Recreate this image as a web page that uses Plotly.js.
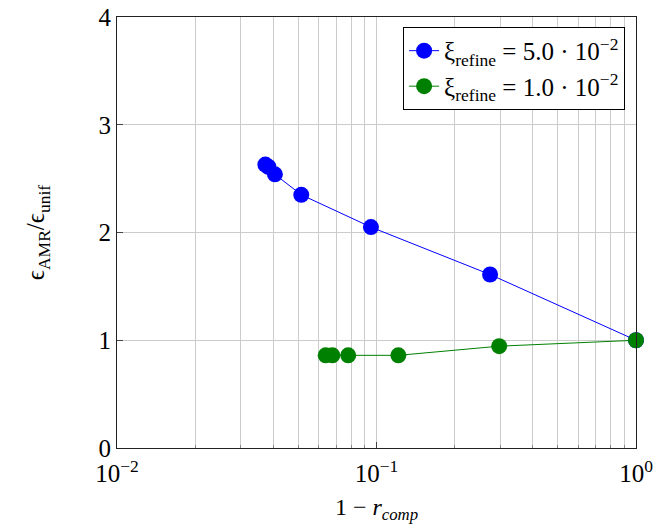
<!DOCTYPE html>
<html>
<head>
<meta charset="utf-8">
<script src="https://cdn.plot.ly/plotly-3.0.1.min.js"></script>
<style>body{margin:0;padding:0;background:#fff;} #chart{width:656px;height:526px;}</style>
</head>
<body>
<div id="chart"></div>
<script>
// Data
const blueX = [0.0373, 0.0383, 0.0406, 0.0513, 0.0952, 0.274, 1.0];
const blueY = [2.63, 2.61, 2.54, 2.35, 2.05, 1.61, 1.0];
const greenX = [0.0637, 0.0676, 0.0778, 0.1214, 0.297, 1.0];
const greenY = [0.86, 0.86, 0.86, 0.86, 0.945, 1.0];
const blueName = "ξ<sub>refine</sub> = 5.0 · 10<sup>−2</sup>";
const greenName = "ξ<sub>refine</sub> = 1.0 · 10<sup>−2</sup>";
const xTickVals = [0.01, 0.1, 1];
const xTickText = ["10<sup>−2</sup>", "10<sup>−1</sup>", "10<sup>0</sup>"];
const xMinorVals = [0.02,0.03,0.04,0.05,0.06,0.07,0.08,0.09,0.2,0.3,0.4,0.5,0.6,0.7,0.8,0.9];
const yTickVals = [0, 1, 2, 3, 4];

const font = "Liberation Serif, DejaVu Serif, serif";

const traces = [
  {x: blueX, y: blueY, name: blueName, mode: "lines+markers", cliponaxis: false,
   line: {color: "#0000ff", width: 1}, marker: {color: "#0000ff", size: 16}},
  {x: greenX, y: greenY, name: greenName, mode: "lines+markers", cliponaxis: false,
   line: {color: "#008000", width: 1}, marker: {color: "#008000", size: 16}}
];

const layout = {
  width: 656, height: 526,
  margin: {l: 117, r: 20, t: 17, b: 78},
  paper_bgcolor: "#fff", plot_bgcolor: "#fff",
  font: {family: font, size: 22, color: "#000"},
  showlegend: true,
  legend: {x: 0.979, y: 0.977, xanchor: "right", yanchor: "top",
           bgcolor: "#fff", bordercolor: "#000", borderwidth: 1,
           font: {family: font, size: 25}, tracegroupgap: 0},
  xaxis: {
    type: "log", range: [-2, 0],
    tickmode: "array", tickvals: xTickVals, ticktext: xTickText,
    ticks: "inside", ticklen: 6, tickcolor: "#444",
    ticklabelstandoff: 3,
    showgrid: true, gridcolor: "#cccccc", gridwidth: 1,
    minor: {tickmode: "array", tickvals: xMinorVals, showgrid: true,
            gridcolor: "#cccccc", gridwidth: 1, ticks: "inside", ticklen: 3, tickcolor: "#888"},
    showline: true, linecolor: "#222", linewidth: 1, mirror: true,
    zeroline: false,
    tickfont: {family: font, size: 25},
    title: {text: "1 − <i>r</i><sub><i>comp</i></sub>", font: {family: font, size: 24}, standoff: 12}
  },
  yaxis: {
    range: [0, 4],
    tickmode: "array", tickvals: yTickVals,
    ticks: "inside", ticklen: 6, tickcolor: "#444",
    showgrid: true, gridcolor: "#cccccc", gridwidth: 1,
    showline: true, linecolor: "#222", linewidth: 1, mirror: true,
    zeroline: false,
    tickfont: {family: font, size: 25},
    title: {text: "ϵ<sub>AMR</sub>/ϵ<sub>unif</sub>", font: {family: font, size: 25}, standoff: 46}
  }
};

Plotly.newPlot("chart", traces, layout, {displayModeBar: false, staticPlot: true});
</script>
</body>
</html>
